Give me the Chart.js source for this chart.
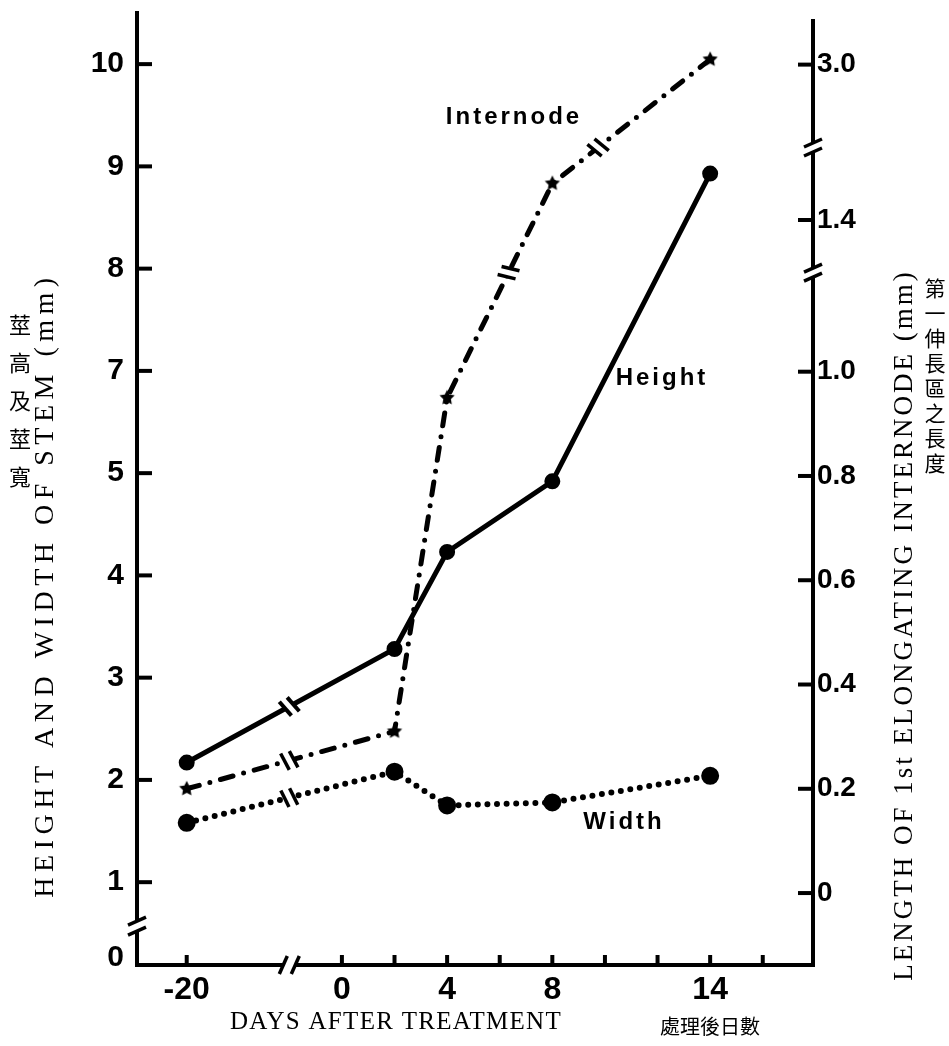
<!DOCTYPE html>
<html>
<head>
<meta charset="utf-8">
<script src="https://cdn.jsdelivr.net/npm/chart.js"></script>
<style>
  html, body { margin: 0; padding: 0; background: #fff; }
  #grafico { display: block; }
</style>
</head>
<body>
<canvas id="grafico" width="949" height="1046"></canvas>
<script>
// days after treatment (-20 sits before the axis break)
const dias = [-20, 2, 4, 8, 14];
// stem height and width, mm, read on the left axis as labelled
const altura = [2.17, 3.28, 4.23, 4.92, 8.93];
const largura = [1.58, 2.08, 1.75, 1.78, 2.04];
// length of 1st elongating internode, mm, read on the right axis
const internode = [0.2, 0.31, 0.95, 1.47, 3.01];

const xTicks = [-20, 0, 2, 4, 6, 8, 10, 12, 14, 16];
const xRotulos = ['-20', '0', '', '4', '', '8', '', '', '14', ''];
const yEsqRotulos = ['0', '1', '2', '3', '4', '5', '7', '8', '9', '10'];
const yDirValores = [0, 0.2, 0.4, 0.6, 0.8, 1.0, 1.4, 3.0];
const yDirRotulos = ['0', '0.2', '0.4', '0.6', '0.8', '1.0', '1.4', '3.0'];

// the drawn axes are broken: x jumps between -20 and 0, the left axis
// has no 6 and a break under 1, the right axis breaks twice above 1.0
const posX = d => d < -10 ? d + 14.1 : d;
const posEsq = v => v < 0.5 ? v + 0.26 : (v > 6 ? v - 1 : v);
const posDir = v => v < 1.2 ? v : (v < 2 ? v - 0.109 : v - 1.411);
const quebraX = -2;
const quebraEsq = 0.57;
const quebrasDir = [1.19, 1.43];

const fonteNum = "'Liberation Sans', Arial, sans-serif";
const fonteSerif = "'Liberation Serif', 'Times New Roman', serif";
const fonteCJK = "'Noto Sans CJK TC', 'Noto Sans CJK SC', sans-serif";

function estrela(r) {
  const c = document.createElement('canvas');
  c.width = c.height = 2 * r + 2;
  const g = c.getContext('2d');
  g.fillStyle = '#000';
  g.beginPath();
  for (let k = 0; k < 10; k++) {
    const a = -Math.PI / 2 + k * Math.PI / 5;
    const rr = k % 2 ? r * 0.5 : r;
    g.lineTo(r + 1 + rr * Math.cos(a), r + 1 + rr * Math.sin(a));
  }
  g.closePath();
  g.fill();
  return c;
}

function marca(ctx, px, py, ang, len, gap, lw, tilt) {
  ctx.save();
  ctx.translate(px, py);
  ctx.rotate(ang);
  ctx.fillStyle = '#fff';
  ctx.fillRect(-gap / 2, -len / 2 + 3, gap, len - 6);
  ctx.strokeStyle = '#000';
  ctx.lineWidth = lw;
  ctx.lineCap = 'butt';
  [-gap / 2, gap / 2].forEach(s => {
    ctx.beginPath();
    ctx.moveTo(s - tilt, -len / 2);
    ctx.lineTo(s + tilt, len / 2);
    ctx.stroke();
  });
  ctx.restore();
}

function seg(ctx, x1, y1, x2, y2) {
  ctx.beginPath();
  ctx.moveTo(x1, y1);
  ctx.lineTo(x2, y2);
  ctx.stroke();
}

function textoVertical(ctx, txt, x, y, font, spacing) {
  ctx.save();
  ctx.translate(x, y);
  ctx.rotate(-Math.PI / 2);
  ctx.font = font;
  ctx.letterSpacing = spacing;
  ctx.textAlign = 'center';
  ctx.textBaseline = 'middle';
  ctx.fillText(txt, 0, 0);
  ctx.restore();
}

function colunaCJK(ctx, txt, x, y0, passo, font) {
  ctx.save();
  ctx.font = font;
  ctx.textAlign = 'center';
  ctx.textBaseline = 'middle';
  Array.from(txt).forEach((ch, i) => ctx.fillText(ch, x, y0 + i * passo));
  ctx.restore();
}

// no extra room for half tick labels: the plot box is set by the axes
function semFolga(s) {
  s.paddingTop = 0;
  s.paddingBottom = 0;
  s.paddingLeft = 0;
  s.paddingRight = 0;
}

const eixos = {
  id: 'eixos',
  afterDatasetsDraw(chart) {
    const { ctx, chartArea: a, scales: { x, y, y1 } } = chart;
    ctx.save();
    ctx.strokeStyle = '#000';
    ctx.fillStyle = '#000';
    ctx.lineWidth = 4;
    ctx.lineCap = 'square';
    ctx.beginPath();
    ctx.moveTo(a.left, a.top);
    ctx.lineTo(a.left, a.bottom);
    ctx.lineTo(a.right, a.bottom);
    ctx.lineTo(a.right, a.top + 8);
    ctx.stroke();

    // tick marks point inward
    ctx.lineCap = 'butt';
    y.ticks.forEach((t, i) => {
      if (i === 0) return;
      const p = y.getPixelForValue(t.value);
      seg(ctx, a.left, p, a.left + 15, p);
    });
    y1.ticks.forEach(t => {
      const p = y1.getPixelForValue(t.value);
      seg(ctx, a.right - 15, p, a.right, p);
    });
    x.ticks.forEach(t => {
      const p = x.getPixelForValue(t.value);
      seg(ctx, p, a.bottom, p, a.bottom - 10);
    });

    // axis breaks
    marca(ctx, a.left, y.getPixelForValue(quebraEsq), -Math.PI / 2, 18, 10, 3.5, 4);
    quebrasDir.forEach(v => marca(ctx, a.right, y1.getPixelForValue(v), -Math.PI / 2, 18, 9, 3.5, 4));
    marca(ctx, x.getPixelForValue(quebraX), a.bottom, 0, 18, 12, 3.5, -4);

    // breaks on the curves between -20 and 0
    const bx = x.getPixelForValue(quebraX);
    chart.data.datasets.forEach((ds, i) => {
      const pts = chart.getDatasetMeta(i).data;
      const p0 = pts[0], p1 = pts[1];
      const t = (bx - p0.x) / (p1.x - p0.x);
      const ang = Math.atan2(p1.y - p0.y, p1.x - p0.x);
      marca(ctx, bx, p0.y + t * (p1.y - p0.y), ang, 18, 9, i === 0 ? 4 : 3.5, 2);
    });
    // internode crosses the right axis breaks
    const pi = chart.getDatasetMeta(2).data;
    quebrasDir.forEach((v, k) => {
      const by = y1.getPixelForValue(v);
      const p0 = pi[2 + k], p1 = pi[3 + k];
      const t = (by - p0.y) / (p1.y - p0.y);
      const ang = Math.atan2(p1.y - p0.y, p1.x - p0.x);
      marca(ctx, p0.x + t * (p1.x - p0.x), by, ang, 18, 9, 3.5, 2);
    });
    ctx.restore();
  },
  afterDraw(chart) {
    const ctx = chart.ctx;
    ctx.save();
    ctx.fillStyle = '#000';
    ctx.textAlign = 'center';
    ctx.textBaseline = 'middle';
    ctx.font = 'bold 24px ' + fonteNum;
    ctx.letterSpacing = '3px';
    ctx.fillText('Internode', 514, 117);
    ctx.fillText('Height', 662, 378);
    ctx.fillText('Width', 624, 822);

    ctx.letterSpacing = '1.3px';
    ctx.font = '25px ' + fonteSerif;
    ctx.fillText('DAYS AFTER TREATMENT', 396, 1022);
    ctx.letterSpacing = '0px';
    ctx.font = '20px ' + fonteCJK;
    ctx.fillText('處理後日數', 710, 1026);

    textoVertical(ctx, 'HEIGHT AND WIDTH OF STEM (mm)', 46, 585, '28px ' + fonteSerif, '5.5px');
    colunaCJK(ctx, '莖高及莖寬', 20, 325, 38, '22px ' + fonteCJK);
    textoVertical(ctx, 'LENGTH OF 1st ELONGATING INTERNODE (mm)', 905, 625, '27px ' + fonteSerif, '3px');
    colunaCJK(ctx, '第一伸長區之長度', 935, 288, 25, '21px ' + fonteCJK);
    ctx.restore();
  }
};

const ctx = document.getElementById('grafico').getContext('2d');
const grafico = new Chart(ctx, {
  type: 'line',
  data: {
    datasets: [{
      label: 'Height',
      data: dias.map((d, i) => ({ x: posX(d), y: posEsq(altura[i]) })),
      yAxisID: 'y',
      borderColor: '#000',
      backgroundColor: '#000',
      borderWidth: 5,
      pointRadius: 5.5
    }, {
      label: 'Width',
      data: dias.map((d, i) => ({ x: posX(d), y: posEsq(largura[i]) })),
      yAxisID: 'y',
      borderColor: '#000',
      backgroundColor: '#000',
      borderWidth: 6,
      borderDash: [0, 9.6],
      borderCapStyle: 'round',
      pointRadius: 6
    }, {
      label: 'Internode',
      data: dias.map((d, i) => ({ x: posX(d), y: posDir(internode[i]) })),
      yAxisID: 'y1',
      borderColor: '#000',
      backgroundColor: '#000',
      borderWidth: 5,
      borderDash: [13, 11, 0, 11],
      borderCapStyle: 'round',
      pointStyle: estrela(8),
      pointRadius: 8
    }]
  },
  options: {
    responsive: false,
    animation: false,
    devicePixelRatio: 1,
    layout: { padding: { top: 10, left: 0, right: 0, bottom: 0 } },
    plugins: { legend: { display: false }, tooltip: { enabled: false } },
    elements: { line: { tension: 0, fill: false }, point: { borderWidth: 0 } },
    scales: {
      x: {
        type: 'linear',
        min: -7.79,
        max: 17.91,
        grid: { display: false, drawTicks: false },
        border: { display: false },
        afterBuildTicks: s => { s.ticks = xTicks.map(d => ({ value: posX(d) })); },
        afterFit: s => { s.height = 81; semFolga(s); },
        ticks: {
          autoSkip: false,
          maxRotation: 0,
          padding: 6,
          color: '#000',
          font: { family: fonteNum, size: 32, weight: 'bold' },
          callback: (v, i) => xRotulos[i]
        }
      },
      y: {
        type: 'linear',
        position: 'left',
        min: 0.19,
        max: 9.5,
        grid: { display: false, drawTicks: false },
        border: { display: false },
        afterBuildTicks: s => { s.ticks = yEsqRotulos.map(l => ({ value: posEsq(+l) })); },
        afterFit: s => { s.width = 137; semFolga(s); },
        ticks: {
          autoSkip: false,
          padding: 13,
          color: '#000',
          font: { family: fonteNum, size: 30, weight: 'bold' },
          callback: (v, i) => yEsqRotulos[i]
        }
      },
      y1: {
        type: 'linear',
        position: 'right',
        min: -0.138,
        max: 1.688,
        grid: { display: false, drawTicks: false },
        border: { display: false },
        afterBuildTicks: s => { s.ticks = yDirValores.map(v => ({ value: posDir(v) })); },
        afterFit: s => { s.width = 136; semFolga(s); },
        ticks: {
          autoSkip: false,
          padding: 4,
          color: '#000',
          font: { family: fonteNum, size: 28, weight: 'bold' },
          callback: (v, i) => yDirRotulos[i]
        }
      }
    }
  },
  plugins: [eixos]
});
</script>
</body>
</html>
